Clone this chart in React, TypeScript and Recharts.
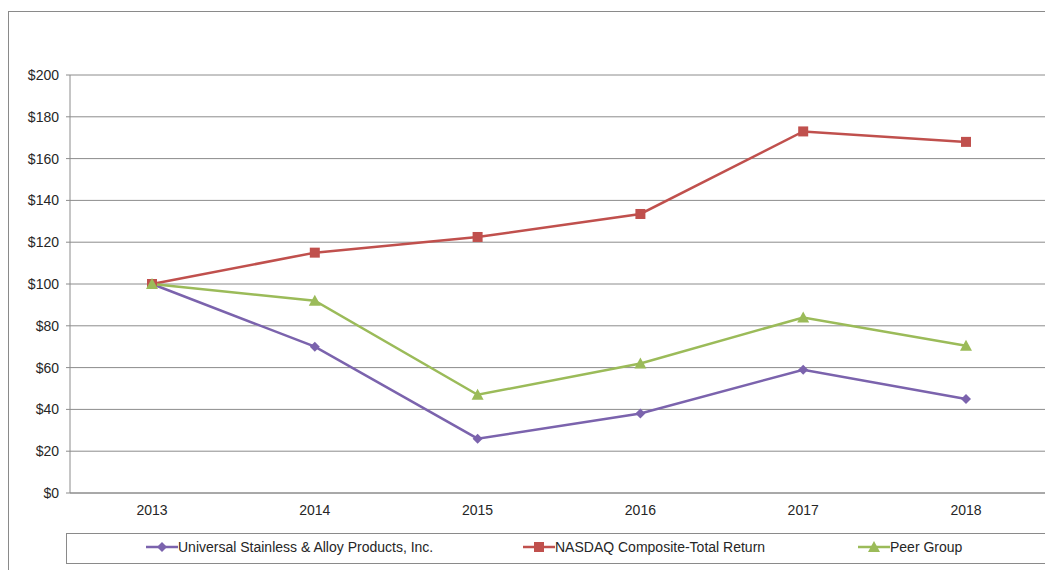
import { LineChart, Line, XAxis, YAxis, CartesianGrid } from 'recharts';

const years = ['2013', '2014', '2015', '2016', '2017', '2018'];
const universal = [100, 70, 26, 38, 59, 45];
const nasdaq = [100, 115, 122.5, 133.5, 173, 168];
const peer = [100, 92, 47, 62, 84, 70.5];
const yTicks = [0, 20, 40, 60, 80, 100, 120, 140, 160, 180, 200];

const series = [
    { key: 'universal', name: 'Universal Stainless & Alloy Products, Inc.', color: '#7b63ad', shape: 'diamond' },
    { key: 'nasdaq', name: 'NASDAQ Composite-Total Return', color: '#c0504d', shape: 'square' },
    { key: 'peer', name: 'Peer Group', color: '#9bbb59', shape: 'triangle' },
];

const data = years.map((year, i) => ({
    year,
    universal: universal[i],
    nasdaq: nasdaq[i],
    peer: peer[i],
}));

function Marker({ cx, cy, shape, color }: { cx: number; cy: number; shape: string; color: string }) {
    if (shape === 'square') {
        return <rect x={cx - 5} y={cy - 5} width={10} height={10} fill={color} />;
    }
    if (shape === 'triangle') {
        return <polygon points={`${cx},${cy - 6} ${cx + 6},${cy + 5} ${cx - 6},${cy + 5}`} fill={color} />;
    }
    return <polygon points={`${cx},${cy - 5} ${cx + 5},${cy} ${cx},${cy + 5} ${cx - 5},${cy}`} fill={color} />;
}

// legend box sits under the plot, like the Excel original
function LegendBox() {
    const positions = [146, 523, 858];
    return (
        <div
            style={{
                position: 'absolute',
                left: 66,
                top: 533,
                width: 1000,
                height: 31,
                border: '1px solid #8a8a8a',
                boxSizing: 'border-box',
                background: '#fff',
            }}
        >
            {series.map((s, i) => (
                <div
                    key={s.key}
                    style={{
                        position: 'absolute',
                        left: positions[i] - 67,
                        top: 5,
                        display: 'flex',
                        alignItems: 'center',
                        fontSize: 14,
                        color: '#262626',
                        whiteSpace: 'nowrap',
                    }}
                >
                    <svg width={32} height={16}>
                        <line x1={0} y1={8} x2={32} y2={8} stroke={s.color} strokeWidth={2.5} />
                        <Marker cx={16} cy={8} shape={s.shape} color={s.color} />
                    </svg>
                    <span>{s.name}</span>
                </div>
            ))}
        </div>
    );
}

export default function App() {
    return (
        <div
            style={{
                position: 'absolute',
                left: 0,
                top: 0,
                width: 1045,
                height: 570,
                overflow: 'hidden',
                background: '#fff',
                fontFamily: '"Liberation Sans", Arial, sans-serif',
            }}
        >
            <div
                style={{
                    position: 'absolute',
                    left: 8,
                    top: 11,
                    width: 1100,
                    height: 600,
                    border: '1px solid #8a8a8a',
                }}
            />
            <div style={{ position: 'absolute', left: 0, top: 0 }}>
                <LineChart
                    width={1050}
                    height={570}
                    data={data}
                    margin={{ top: 75, right: 2, left: 0, bottom: 47 }}
                >
                    <CartesianGrid stroke="#8c8c8c" vertical={false} />
                    <XAxis
                        dataKey="year"
                        height={30}
                        padding={{ left: 82, right: 82 }}
                        tick={{ fontSize: 14, fill: '#262626' }}
                        axisLine={{ stroke: '#8c8c8c' }}
                        tickLine={false}
                        tickMargin={6}
                    />
                    <YAxis
                        width={70}
                        domain={[0, 200]}
                        ticks={yTicks}
                        interval={0}
                        tickFormatter={(v: number) => `$${v}`}
                        tick={{ fontSize: 14, fill: '#262626' }}
                        axisLine={{ stroke: '#8c8c8c' }}
                        tickLine={{ stroke: '#8c8c8c' }}
                        tickSize={4}
                        tickMargin={7}
                    />
                    {series.map((s) => (
                        <Line
                            key={s.key}
                            type="linear"
                            dataKey={s.key}
                            name={s.name}
                            stroke={s.color}
                            strokeWidth={2.5}
                            dot={(p: any) => (
                                <Marker key={`${s.key}-${p.index}`} cx={p.cx} cy={p.cy} shape={s.shape} color={s.color} />
                            )}
                            activeDot={false}
                            isAnimationActive={false}
                        />
                    ))}
                </LineChart>
            </div>
            <LegendBox />
        </div>
    );
}
